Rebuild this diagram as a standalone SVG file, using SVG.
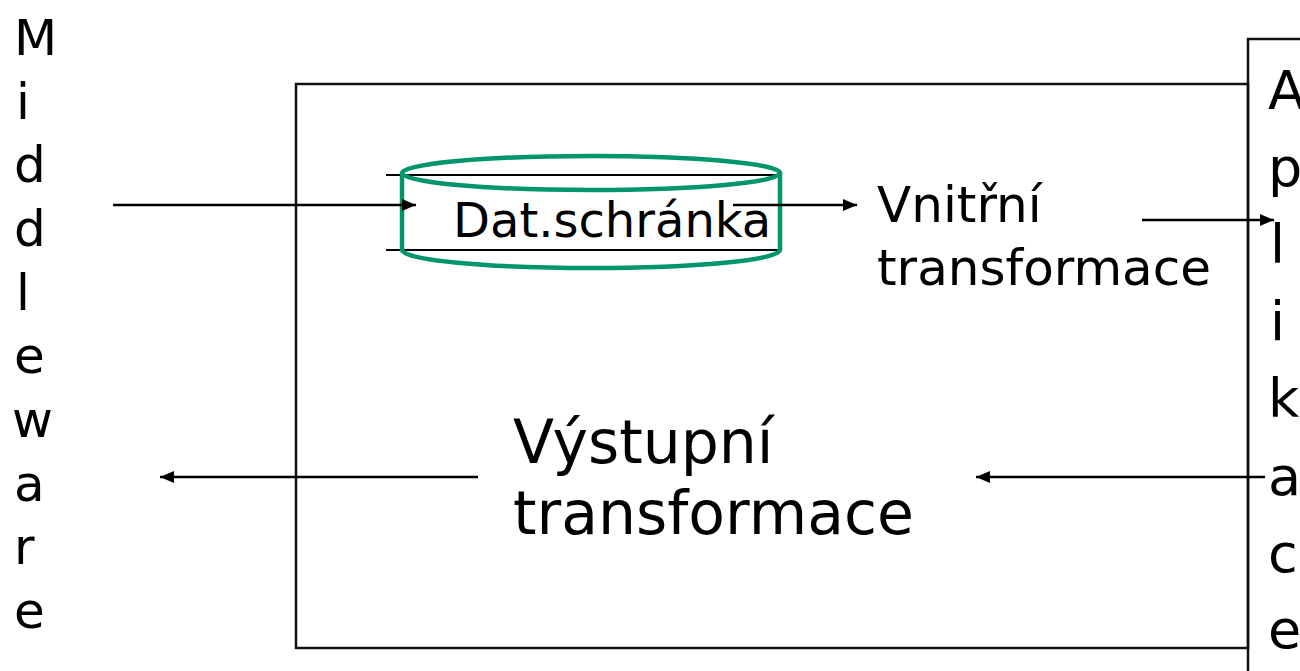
<svg xmlns="http://www.w3.org/2000/svg" width="1300" height="671" viewBox="0 0 1300 671">
  <defs>
    <marker id="arrow" viewBox="0 0 14 12" refX="14" refY="6" markerWidth="14" markerHeight="12" markerUnits="userSpaceOnUse" orient="auto">
      <path d="M0,0 L14,6 L0,12 Z" fill="#000"/>
    </marker>
    <style>
      text { font-family: "DejaVu Sans", "Noto Sans", sans-serif; fill: #000; }
      .frame { fill: none; stroke: #111; stroke-width: 2.5; }
      .line { fill: none; stroke: #000; stroke-width: 2; }
      .flow { fill: none; stroke: #000; stroke-width: 2.5; marker-end: url(#arrow); }
      .store { fill: none; stroke: #00956A; stroke-width: 4.5; }
      .side { font-size: 50px; }
      .side2 { font-size: 54px; }
      .mid { font-size: 48px; }
      .big { font-size: 60px; }
    </style>
  </defs>

  <rect width="1300" height="671" fill="#fff"/>

  <!-- Middleware column -->
  <g id="middleware">
    <text class="side" x="14" y="55">M</text>
    <text class="side" x="16" y="119">i</text>
    <text class="side" x="14" y="182">d</text>
    <text class="side" x="14" y="246">d</text>
    <text class="side" x="16" y="310">l</text>
    <text class="side" x="14" y="373">e</text>
    <text class="side" x="12" y="437">w</text>
    <text class="side" x="14" y="501">a</text>
    <text class="side" x="14" y="564">r</text>
    <text class="side" x="14" y="628">e</text>
  </g>

  <!-- Transformation block -->
  <g id="transformation-block">
    <rect class="frame" x="296" y="84" width="952" height="564"/>
  </g>

  <!-- Application column -->
  <g id="aplikace">
    <path class="frame" d="M1248,671 V39 H1300"/>
    <text class="side2" x="1268" y="109">A</text>
    <text class="side2" x="1268" y="186">p</text>
    <text class="side2" x="1270" y="263">l</text>
    <text class="side2" x="1270" y="340">i</text>
    <text class="side2" x="1268" y="417">k</text>
    <text class="side2" x="1268" y="495">a</text>
    <text class="side2" x="1268" y="572">c</text>
    <text class="side2" x="1268" y="648">e</text>
  </g>

  <!-- Data buffer (cylinder) -->
  <g id="dat-schranka">
    <line class="line" x1="386" y1="175" x2="778" y2="175"/>
    <line class="line" x1="386" y1="250" x2="778" y2="250"/>
    <ellipse class="store" cx="591" cy="173" rx="189" ry="17"/>
    <path class="store" d="M402,173 V250 A189,18 0 0 0 780,250 V173"/>
    <text class="mid" x="453" y="237">Dat.schránka</text>
  </g>

  <g id="vnitrni-transformace">
    <text class="mid" x="877" y="222" style="font-size:50px">Vnitřní</text>
    <text class="mid" x="877" y="285" style="font-size:50px">transformace</text>
  </g>

  <g id="vystupni-transformace">
    <text class="big" x="513" y="463">Výstupní</text>
    <text class="big" x="513" y="534">transformace</text>
  </g>

  <!-- Connectors -->
  <g id="connectors">
    <line class="flow" x1="113" y1="205" x2="416" y2="205"/>
    <line class="flow" x1="733" y1="205" x2="857" y2="205"/>
    <line class="flow" x1="1142" y1="220" x2="1274" y2="220"/>
    <line class="flow" x1="478" y1="477" x2="160" y2="477"/>
    <line class="flow" x1="1265" y1="477" x2="976" y2="477"/>
  </g>
</svg>
